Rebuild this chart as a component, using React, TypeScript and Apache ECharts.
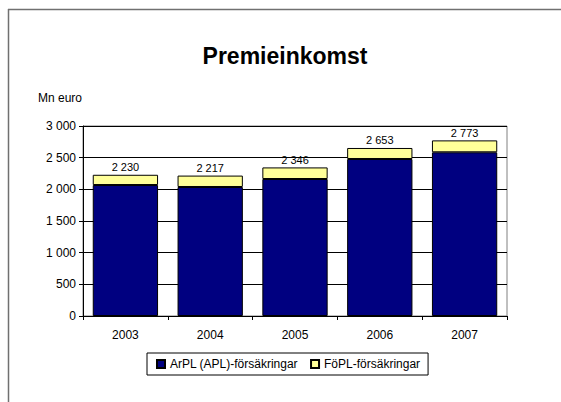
import React, { useEffect, useRef } from "react";
import * as echarts from "echarts";

const years = ["2003", "2004", "2005", "2006", "2007"];
const arpl = [2068, 2037, 2163, 2479, 2585];
const fopl = [162, 180, 183, 174, 188];
const totals = [2230, 2217, 2346, 2653, 2773];
const yTicks = [0, 500, 1000, 1500, 2000, 2500, 3000];

const FONT = "'Liberation Sans', Arial, sans-serif";
const fmt = (v: number) => String(v).replace(/\B(?=(\d{3})+(?!\d))/g, " ");

export default function App() {
  const ref = useRef<HTMLDivElement>(null);
  useEffect(() => {
    document.body.style.margin = "0";
    const chart = echarts.init(ref.current!, null, { renderer: "svg" });
    chart.setOption({
      animation: false,
      backgroundColor: "#fff",
      textStyle: { fontFamily: FONT, color: "#000" },
      title: {
        text: "Premieinkomst",
        left: 280,
        textAlign: "center",
        top: 39,
        textStyle: { fontFamily: FONT, fontSize: 23, fontWeight: "bold", color: "#000" },
      },
      graphic: [
        { type: "line", shape: { x1: 8, y1: 9.5, x2: 561, y2: 9.5 }, style: { stroke: "#707070", lineWidth: 1.5 } },
        { type: "line", shape: { x1: 8.5, y1: 9, x2: 8.5, y2: 402 }, style: { stroke: "#707070", lineWidth: 1.5 } },
        { type: "text", left: 38, top: 92, style: { text: "Mn euro", font: `12px ${FONT}`, fill: "#000" } },
      ],
      legend: {
        left: 147,
        top: 353,
        orient: "horizontal",
        data: ["ArPL (APL)-försäkringar", "FöPL-försäkringar"],
        icon: "rect",
        itemWidth: 8,
        itemHeight: 8,
        itemGap: 12,
        padding: [5, 8, 5, 9],
        borderColor: "#000",
        borderWidth: 1,
        borderRadius: 0,
        textStyle: { fontFamily: FONT, fontSize: 12, color: "#000" },
      },
      grid: {
        left: 83,
        top: 126,
        right: 54,
        bottom: 86,
        show: true,
        borderColor: "#808080",
        borderWidth: 1,
        containLabel: false,
      },
      xAxis: {
        type: "category",
        data: years,
        axisLine: { lineStyle: { color: "#000", width: 1 } },
        axisTick: { show: true, length: 4, lineStyle: { color: "#000" } },
        axisLabel: { fontFamily: FONT, fontSize: 12, color: "#000", margin: 13 },
      },
      yAxis: {
        type: "value",
        min: yTicks[0],
        max: yTicks[yTicks.length - 1],
        interval: 500,
        axisLine: { show: true, lineStyle: { color: "#000", width: 1 } },
        axisTick: { show: true, length: 4, lineStyle: { color: "#000" } },
        axisLabel: { fontFamily: FONT, fontSize: 12, color: "#000", margin: 7, formatter: (v: number) => fmt(v) },
        splitLine: { show: true, lineStyle: { color: "#000", width: 1 } },
      },
      series: [
        {
          name: "ArPL (APL)-försäkringar",
          type: "bar",
          stack: "t",
          data: arpl,
          barWidth: "77%",
          itemStyle: { color: "#000080", borderColor: "#000", borderWidth: 1 },
        },
        {
          name: "FöPL-försäkringar",
          type: "bar",
          stack: "t",
          data: fopl,
          barWidth: "77%",
          itemStyle: { color: "#FFFF99", borderColor: "#000", borderWidth: 1 },
          label: {
            show: true,
            position: "top",
            distance: 2,
            fontFamily: FONT,
            fontSize: 11,
            color: "#000",
            formatter: (p: any) => fmt(totals[p.dataIndex]),
          },
        },
      ],
    });
    return () => chart.dispose();
  }, []);
  return <div ref={ref} style={{ width: 561, height: 402 }} />;
}
